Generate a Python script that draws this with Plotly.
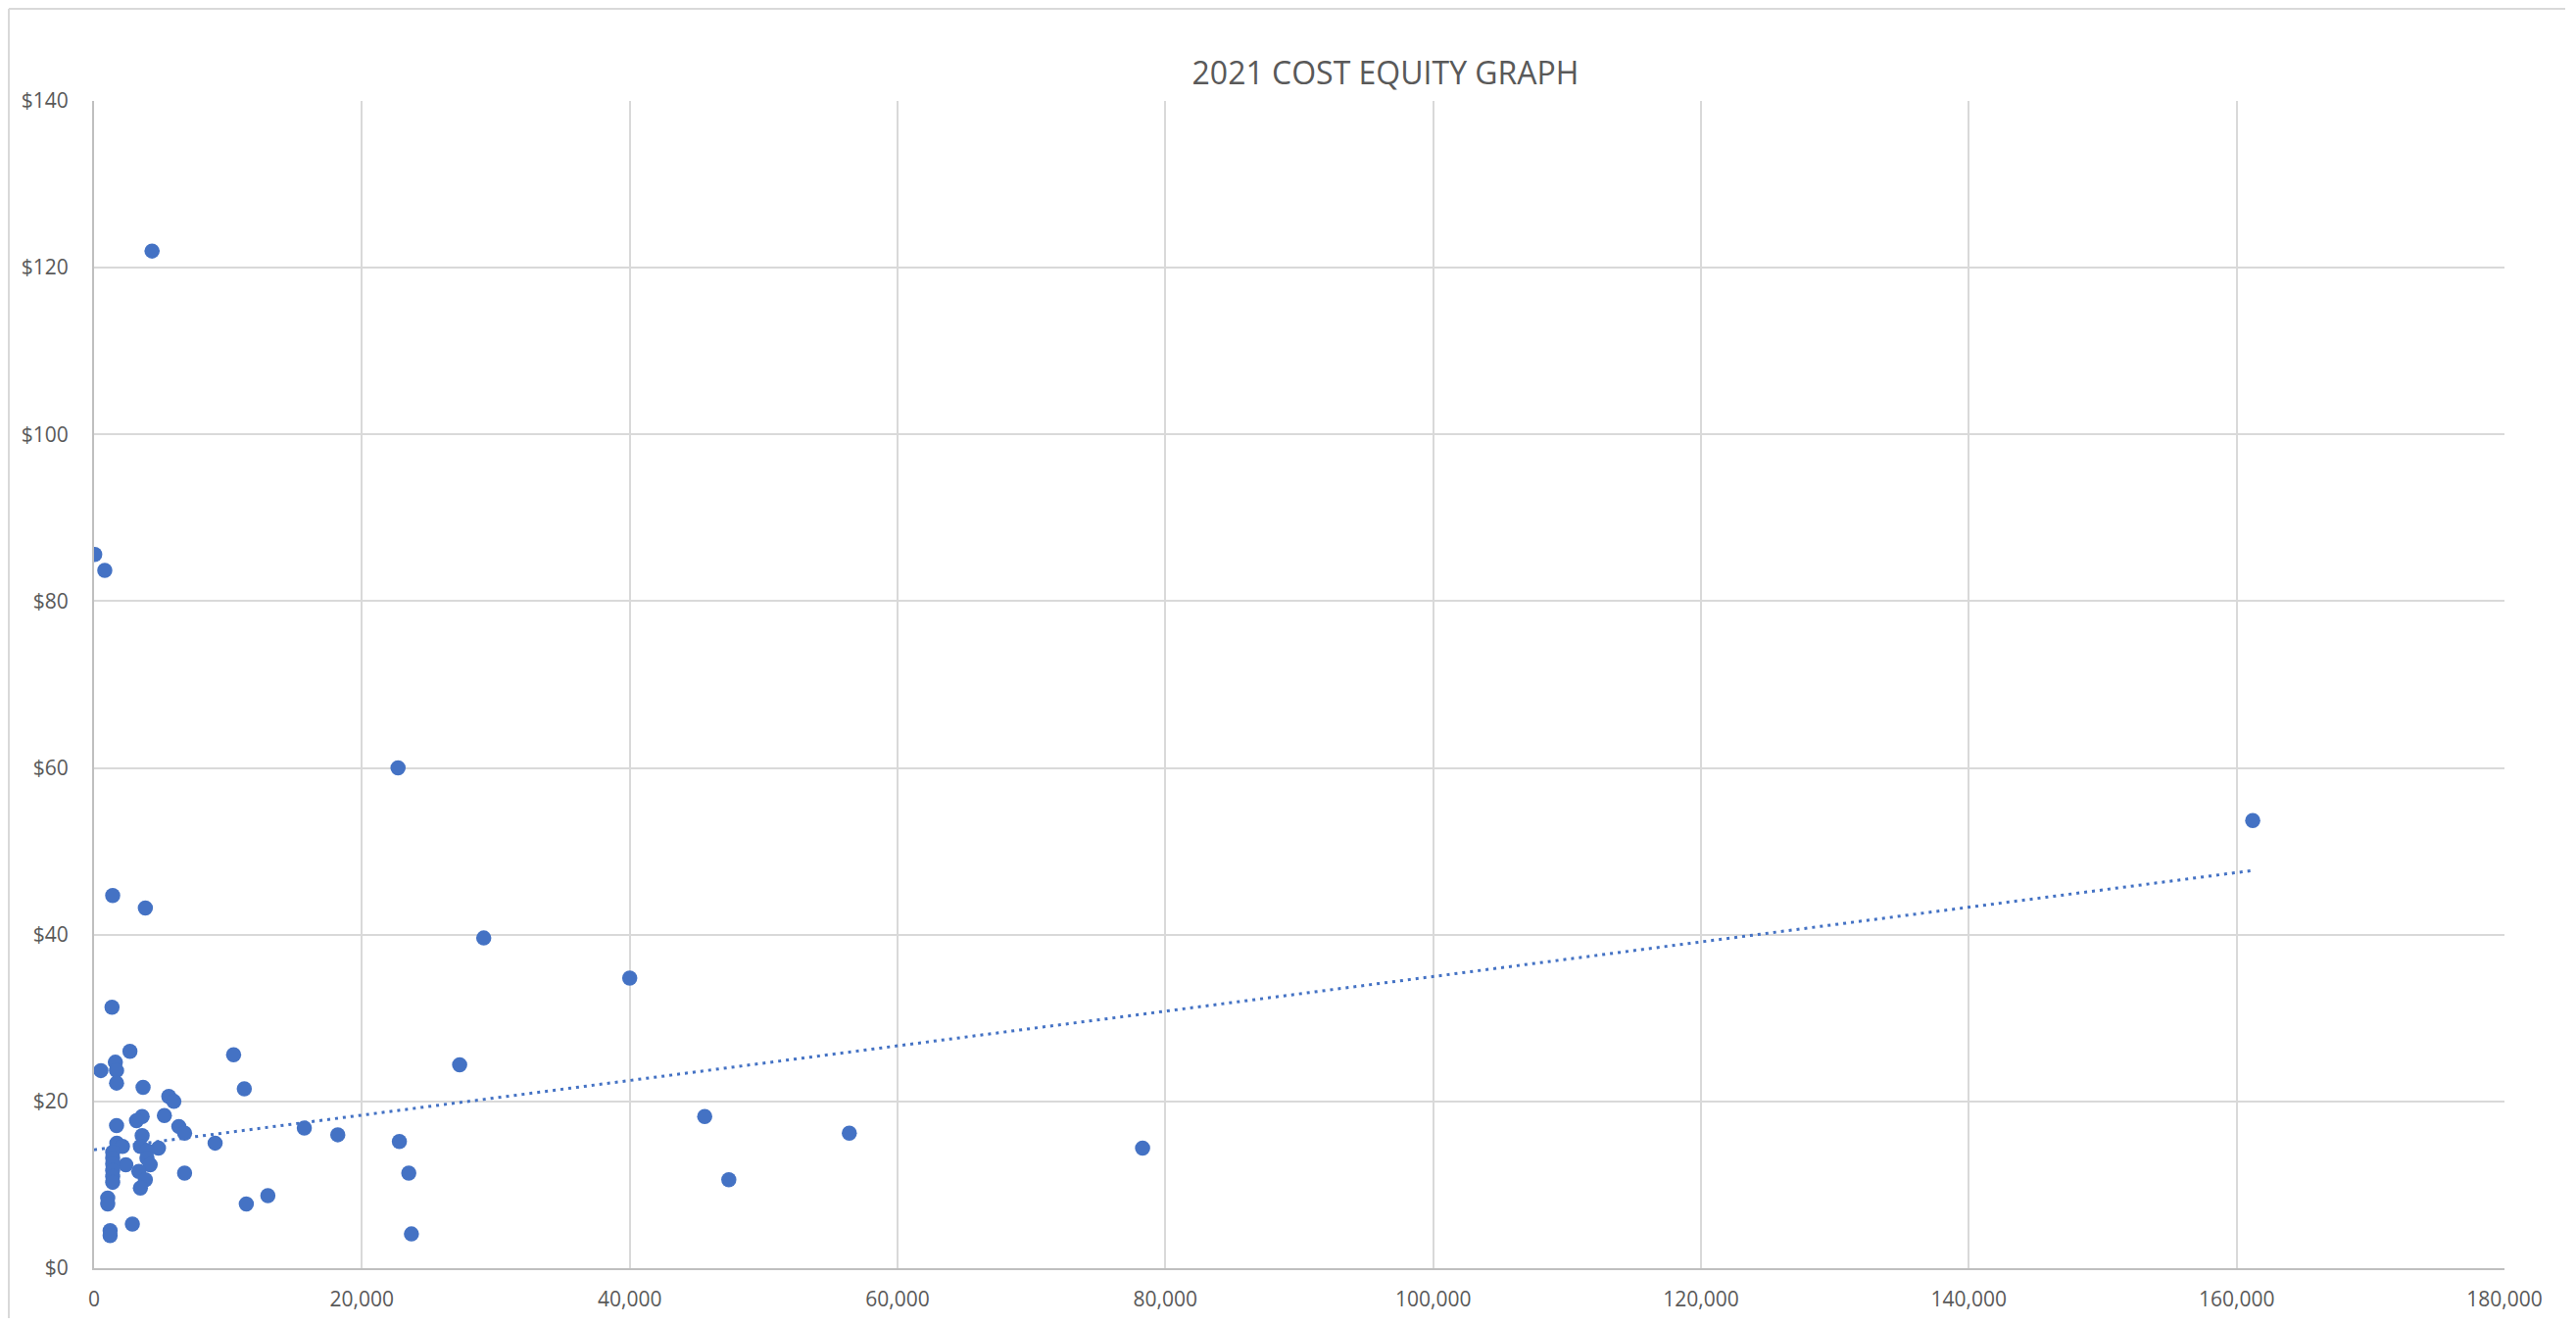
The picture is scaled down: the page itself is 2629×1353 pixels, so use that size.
import plotly.graph_objects as go

# Data
shares = [4330, 50, 800, 22700, 161200, 1390, 3830, 29100, 40000, 1340,
          2680, 10420, 27300, 510, 1590, 1680, 1680, 3660, 11220, 5580,
          5960, 5250, 3590, 3170, 1680, 6330, 6760, 15700, 18200, 45600,
          56400, 22800, 3590, 9040, 1700, 2120, 3460, 4810, 3950, 1390,
          1390, 3950, 2370, 4190, 1390, 3340, 1390, 1390, 1390, 3830,
          3460, 6760, 23500, 47400, 78300, 1020, 1020, 11370, 12980, 2860,
          1200, 1200, 23700]
cost = [122.0, 85.6, 83.7, 60.0, 53.7, 44.7, 43.2, 39.6, 34.8, 31.3,
        26.0, 25.6, 24.4, 23.7, 24.7, 23.7, 22.2, 21.7, 21.5, 20.6,
        20.0, 18.3, 18.2, 17.7, 17.1, 17.0, 16.2, 16.8, 16.0, 18.2,
        16.2, 15.2, 15.9, 15.0, 15.0, 14.6, 14.6, 14.4, 14.1, 13.9,
        13.2, 13.2, 12.4, 12.4, 12.5, 11.6, 11.7, 11.0, 10.3, 10.6,
        9.6, 11.4, 11.4, 10.6, 14.4, 8.4, 7.7, 7.7, 8.7, 5.3,
        4.5, 3.9, 4.1]

# Linear trendline endpoints
trend_x = [0, 161200]
trend_y = [14.2, 47.7]

x_ticks = [0, 20000, 40000, 60000, 80000, 100000, 120000, 140000, 160000, 180000]
y_ticks = [0, 20, 40, 60, 80, 100, 120, 140]
y_tick_labels = ["$" + str(v) for v in y_ticks]
x_tick_labels = ["{:,}".format(v) for v in x_ticks]
title_text = "2021 COST EQUITY GRAPH"

BLUE = "#4472C4"
GREY_TXT = "#595959"
GRID = "#D9D9D9"

fig = go.Figure()
fig.add_trace(go.Scatter(
    x=trend_x, y=trend_y, mode="lines",
    line=dict(color=BLUE, width=3, dash="3px,5px"),
    hoverinfo="skip", showlegend=False))
fig.add_trace(go.Scatter(
    x=shares, y=cost, mode="markers",
    marker=dict(color=BLUE, size=15.5, line=dict(width=0)),
    showlegend=False))

OFF = 8  # page body margin
W, H = 2629 - 2 * OFF, 1353 - 2 * OFF
L = 96 - OFF
T = 103 - OFF
R = W + OFF - 2556
B = H + OFF - 1294
pw, ph = W - L - R, H - T - B


def px(xp):
    return (xp - L) / pw


def py(yp):
    return (H - B - yp) / ph


fig.update_layout(
    width=W, height=H,
    margin=dict(l=L, r=R, t=T, b=B, autoexpand=False),
    paper_bgcolor="white", plot_bgcolor="white",
    font=dict(family="Open Sans, Liberation Sans, sans-serif", color=GREY_TXT),
    title=dict(text=title_text, x=(1414 - OFF) / W, xanchor="center",
               y=1 - (75 - OFF) / H, yanchor="middle", yref="container",
               font=dict(size=32, color=GREY_TXT)),
    xaxis=dict(range=[0, 180000], tickvals=x_ticks, ticktext=x_tick_labels,
               showgrid=True, gridcolor=GRID, gridwidth=2,
               showline=True, linecolor="#BFBFBF", linewidth=2,
               zeroline=False, ticks="", ticklabelstandoff=12,
               tickfont=dict(size=21, color=GREY_TXT)),
    yaxis=dict(range=[0, 140], tickvals=y_ticks, ticktext=y_tick_labels,
               showgrid=True, gridcolor=GRID, gridwidth=2,
               showline=True, linecolor="#BFBFBF", linewidth=2,
               zeroline=False, ticks="", ticklabelstandoff=20,
               tickfont=dict(size=21, color=GREY_TXT)),
    shapes=[
        dict(type="line", xref="paper", yref="paper",
             x0=px(1), x1=px(1), y0=py(1), y1=py(H + 5),
             line=dict(color=GRID, width=2)),
        dict(type="line", xref="paper", yref="paper",
             x0=px(1), x1=px(2618 - OFF), y0=py(1), y1=py(1),
             line=dict(color=GRID, width=2)),
    ],
)

fig.write_html("out.html")
